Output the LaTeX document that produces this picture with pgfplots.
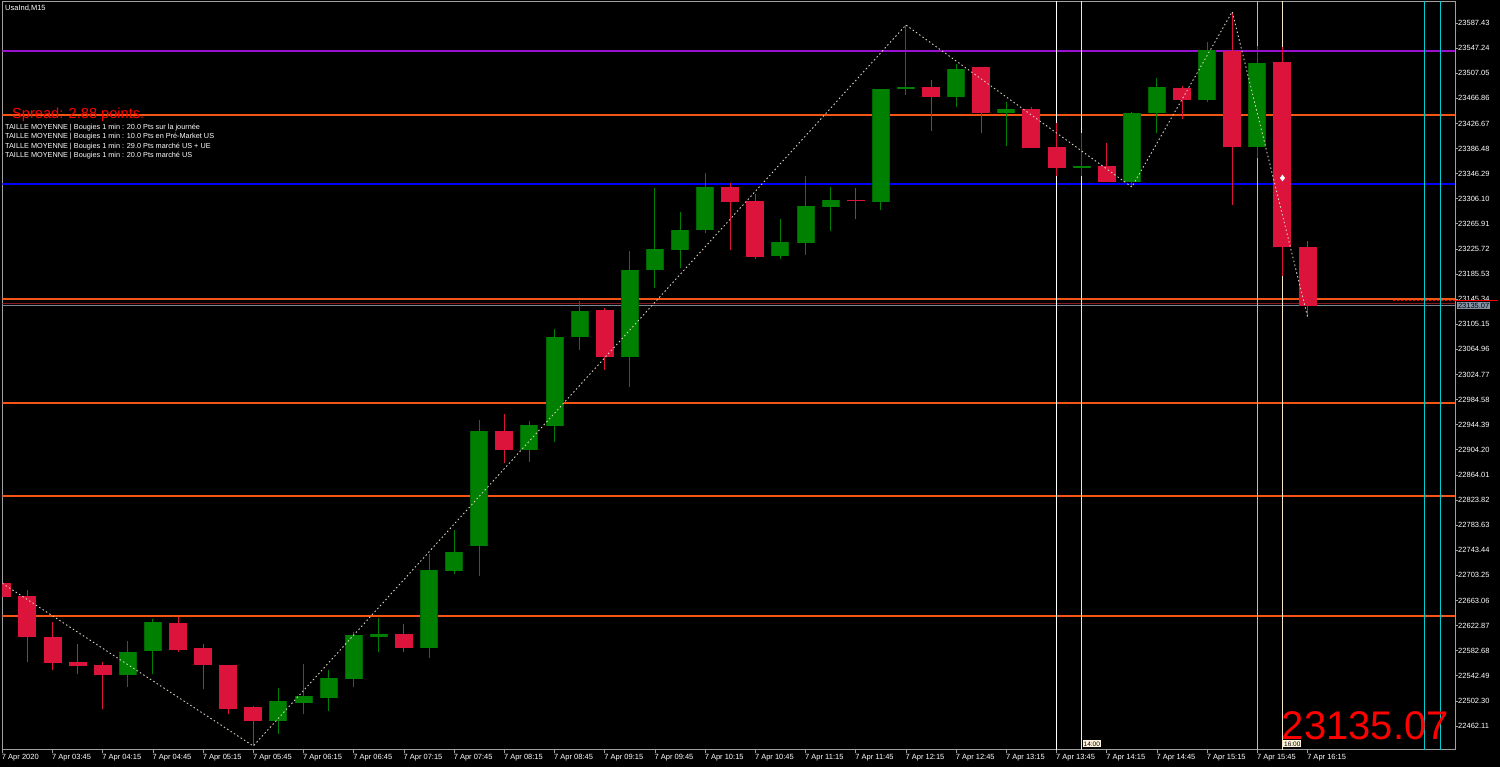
\documentclass[border=0pt]{standalone}
\usepackage{pgfplots}
\usepackage{pgfplotstable}
\pgfplotsset{compat=1.18}
\usepackage{fontspec}
\setmainfont{Liberation Sans}

\definecolor{bull}{HTML}{008000}
\definecolor{bulledge}{HTML}{006400}
\definecolor{bear}{HTML}{DC143C}
\definecolor{axgrey}{HTML}{A0A0A0}
\definecolor{lvorange}{RGB}{245,85,20}
\definecolor{lvpurple}{HTML}{9A10D0}
\definecolor{lvblue}{HTML}{0000FF}
\definecolor{maroonl}{HTML}{8B1A1A}
\definecolor{bidgrey}{HTML}{778899}
\definecolor{zig}{HTML}{D8D0C0}
\definecolor{wheatl}{HTML}{F5E6C8}
\definecolor{tanl}{HTML}{C8B89C}
\definecolor{cyanl}{HTML}{00CED1}
\definecolor{pricebox}{HTML}{8494A6}
\definecolor{tagfill}{HTML}{FFF3DC}

\pgfplotsset{
  level/.style={draw=lvorange, line width=2pt, mark=none},
  candle/.style={draw=none, mark=none, error bars/.cd, y dir=plus, y explicit, error mark=none},
}

% M15 bars, x = bar index (0 = 03:15)
\pgfplotstableread{
x o h l c
5 22543.78 22597.72 22524.57 22581.07
6 22582.67 22633.42 22544.90 22628.61
11 22469.67 22522.97 22449.82 22502.16
12 22499.44 22561.39 22480.87 22510.16
13 22507.44 22551.78 22486.15 22538.50
14 22537.85 22613.09 22525.05 22607.33
15 22604.12 22634.54 22580.11 22608.93
17 22586.52 22737.46 22570.51 22711.85
18 22710.73 22775.88 22705.93 22740.66
19 22749.79 22951.48 22702.25 22933.87
21 22904.42 22950.36 22884.73 22943.95
22 22942.83 23097.14 22916.74 23085.29
23 23085.29 23141.96 23064.00 23125.95
25 23052.32 23222.47 23005.26 23191.58
26 23191.58 23323.32 23163.73 23225.20
27 23224.56 23284.90 23195.74 23255.61
28 23255.61 23347.81 23251.77 23324.44
31 23214.95 23273.22 23210.15 23236.40
32 23235.76 23342.05 23216.07 23294.03
33 23293.39 23325.40 23254.97 23304.11
35 23301.39 23481.31 23288.10 23481.31
36 23481.31 23584.23 23472.18 23484.51
38 23469.46 23521.32 23452.49 23513.80
40 23443.85 23460.98 23390.55 23449.77
43 23355.81 23410.88 23342.53 23359.01
45 23333.40 23444.97 23324.92 23442.89
46 23442.89 23499.40 23410.88 23484.51
48 23464.18 23557.02 23461.46 23543.73
50 23389.43 23551.10 23370.86 23523.89
}\bulls

\pgfplotstableread{
x o h l c
0 22690.56 22690.56 22669.11 22669.11
1 22670.23 22679.84 22565.07 22605.08
2 22604.60 22628.61 22552.26 22563.47
3 22564.59 22593.40 22544.90 22558.66
4 22559.78 22564.59 22489.35 22543.78
7 22626.53 22636.62 22581.07 22583.79
8 22586.52 22593.40 22520.89 22559.78
9 22559.78 22559.78 22480.87 22489.35
10 22492.07 22494.16 22430.13 22469.67
16 22608.93 22625.41 22580.11 22587.48
20 22933.87 22961.56 22883.61 22904.42
24 23127.55 23131.23 23031.99 23053.28
29 23324.44 23330.84 23224.07 23300.91
30 23302.51 23313.23 23209.19 23213.35
34 23304.11 23323.32 23273.22 23301.71
37 23484.99 23496.19 23414.56 23468.98
39 23516.52 23516.52 23410.88 23443.37
41 23449.77 23453.46 23387.83 23387.83
42 23389.43 23426.88 23342.53 23354.85
44 23358.05 23395.35 23333.40 23333.40
47 23482.91 23486.59 23433.77 23464.18
49 23543.09 23605.52 23296.11 23388.95
51 23525.01 23549.02 23182.46 23229.36
52 23228.88 23238.00 23117.31 23135.07
}\bears

\begin{document}
\begin{tikzpicture}
\fill[black] (0,0) rectangle (1500pt,767pt);
\begin{axis}[
  at={(2.3pt,17pt)}, anchor=south west,
  scale only axis, width=1452.7pt, height=748pt,
  xmin=0, xmax=57.876, ymin=22423.72, ymax=23621.05,
  axis line style={axgrey, line width=1pt},
  tick style={axgrey, line width=0.8pt},
  tick align=outside, major tick length=3pt,
  xtick pos=lower, ytick pos=right,
  yticklabel pos=right,
  xtick={0,2,...,52},
  xticklabels={7 Apr 2020,7 Apr 03:45,7 Apr 04:15,7 Apr 04:45,7 Apr 05:15,7 Apr 05:45,7 Apr 06:15,7 Apr 06:45,7 Apr 07:15,7 Apr 07:45,7 Apr 08:15,7 Apr 08:45,7 Apr 09:15,7 Apr 09:45,7 Apr 10:15,7 Apr 10:45,7 Apr 11:15,7 Apr 11:45,7 Apr 12:15,7 Apr 12:45,7 Apr 13:15,7 Apr 13:45,7 Apr 14:15,7 Apr 14:45,7 Apr 15:15,7 Apr 15:45,7 Apr 16:15},
  ytick={22462.11,22502.30,22542.49,22582.68,22622.87,22663.06,22703.25,22743.44,22783.63,22823.82,22864.01,22904.20,22944.39,22984.58,23024.77,23064.96,23105.15,23145.34,23185.53,23225.72,23265.91,23306.10,23346.29,23386.48,23426.67,23466.86,23507.05,23547.24,23587.43},
  yticklabels={22462.11,22502.30,22542.49,22582.68,22622.87,22663.06,22703.25,22743.44,22783.63,22823.82,22864.01,22904.20,22944.39,22984.58,23024.77,23064.96,23105.15,23145.34,23185.53,23225.72,23265.91,23306.10,23346.29,23386.48,23426.67,23466.86,23507.05,23547.24,23587.43},
  xticklabel style={anchor=north west, inner sep=0pt, text=white, font=\fontsize{7.5}{8}\selectfont, xshift=-0.5pt, yshift=-1pt},
  yticklabel style={anchor=west, inner sep=0pt, text=white, font=\fontsize{7.5}{8}\selectfont},
  clip=true,
]
% level lines
\addplot[draw=lvpurple, line width=2pt] coordinates {(-1,23543.09) (60,23543.09)};
\addplot[level] coordinates {(-1,23440.17) (60,23440.17)};
\addplot[draw=lvblue, line width=2pt] coordinates {(-1,23329.72) (60,23329.72)};
\addplot[level] coordinates {(-1,22978.69) (60,22978.69)};
\addplot[level] coordinates {(-1,22830.78) (60,22830.78)};
\addplot[level] coordinates {(-1,22638.70) (60,22638.70)};
\addplot[draw=bidgrey, line width=0.8pt] coordinates {(-1,23136.04) (60,23136.04)};
\addplot[draw=maroonl, line width=1.2pt] coordinates {(-1,23138.76) (60,23138.76)};
\addplot[level, line width=1.6pt] coordinates {(-1,23145.16) (60,23145.16)};
% session lines
\addplot[draw=white, line width=1pt] coordinates {(42,22300) (42,23700)};
\addplot[draw=wheatl, line width=1pt] coordinates {(43,22300) (43,23700)};
\addplot[draw=tanl, line width=1pt] coordinates {(50,22300) (50,23700)};
\addplot[draw=wheatl, line width=1pt] coordinates {(51,22300) (51,23700)};
\addplot[draw=cyanl, line width=1pt] coordinates {(56.65,22300) (56.65,23700)};
\addplot[draw=cyanl, line width=1pt] coordinates {(57.29,22300) (57.29,23700)};
% wicks
\addplot[candle, error bar style={line width=1pt, draw=bull}]
  table[x=x, y=l, y error expr=\thisrow{h}-\thisrow{l}] {\bulls};
\addplot[candle, error bar style={line width=1pt, draw=bear}]
  table[x=x, y=l, y error expr=\thisrow{h}-\thisrow{l}] {\bears};
% bodies
\addplot[candle, error bar style={line width=18pt, draw=bulledge}]
  table[x=x, y=o, y error expr=\thisrow{c}-\thisrow{o}] {\bulls};
\addplot[candle, error bar style={line width=16pt, draw=bull}]
  table[x=x, y=o, y error expr=\thisrow{c}-\thisrow{o}] {\bulls};
\addplot[candle, error bar style={line width=18pt, draw=bear}]
  table[x=x, y=c, y error expr=\thisrow{o}-\thisrow{c}] {\bears};
% zigzag
\addplot[draw=zig, line width=0.9pt, dash pattern=on 1.5pt off 2.5pt] coordinates {(0,22690.56) (10,22430.13) (36,23584.23) (45,23324.92) (49,23605.52) (52,23117.31)};
\addplot[only marks, mark=diamond*, mark size=3pt, white] coordinates {(51,23339.33)};
\addplot[draw=red, line width=0.8pt, dash pattern=on 2pt off 2pt] coordinates {(55.4,23144.04) (58,23144.04)};
\end{axis}
% texts
\node[anchor=base west, inner sep=0pt, text=white, font=\fontsize{7.5}{8}\selectfont] at (5pt,756.5pt) {UsaInd,M15};
\node[anchor=base west, inner sep=0pt, text=red, font=\fontsize{14.6}{16}\selectfont] at (12pt,648.7pt) {Spread: 2.88 points.};
\node[anchor=base west, inner sep=0pt, text=white, font=\fontsize{7.3}{8}\selectfont] at (5pt,637.5pt) {TAILLE MOYENNE | Bougies 1 min : 20.0 Pts sur la journée};
\node[anchor=base west, inner sep=0pt, text=white, font=\fontsize{7.3}{8}\selectfont] at (5pt,628.2pt) {TAILLE MOYENNE | Bougies 1 min : 10.0 Pts en Pré-Market US};
\node[anchor=base west, inner sep=0pt, text=white, font=\fontsize{7.3}{8}\selectfont] at (5pt,618.8pt) {TAILLE MOYENNE | Bougies 1 min : 29.0 Pts marché US + UE};
\node[anchor=base west, inner sep=0pt, text=white, font=\fontsize{7.3}{8}\selectfont] at (5pt,609.5pt) {TAILLE MOYENNE | Bougies 1 min : 20.0 Pts marché US};
\node[anchor=base east, inner sep=0pt, text=red, font=\fontsize{40}{44}\selectfont] at (1449pt,27.7pt) {23135.07};
\node[anchor=south west, inner sep=1pt, fill=tagfill, text=black, font=\fontsize{6.5}{7}\selectfont] at (1082.5pt,19.7pt) {14:00};
\node[anchor=south west, inner sep=1pt, fill=tagfill, text=black, font=\fontsize{6.5}{7}\selectfont] at (1283pt,19.7pt) {16:00};
\draw[red, line width=1pt] (1455pt,466.5pt) -- (1498pt,466.5pt);
\node[anchor=west, inner sep=0.8pt, fill=pricebox, text=black, font=\fontsize{7.5}{8}\selectfont] at (1457pt,461.5pt) {23135.07};
\pgfresetboundingbox
\useasboundingbox (0,0) rectangle (1500pt,767pt);
\end{tikzpicture}
\end{document}
